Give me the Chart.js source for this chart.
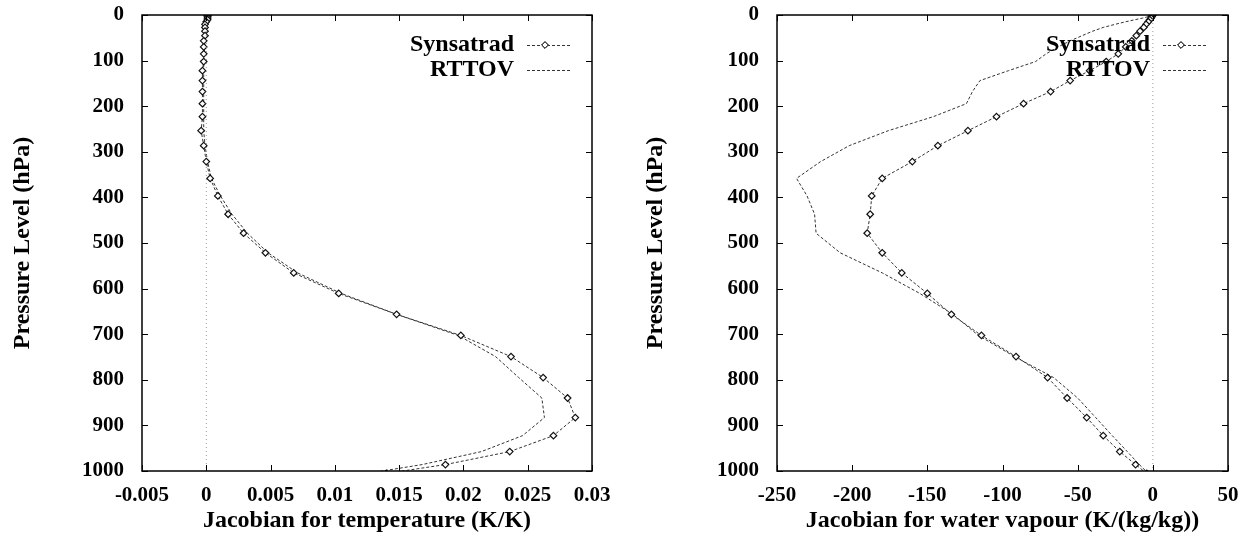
<!DOCTYPE html>
<html>
<head>
<meta charset="utf-8">
<script src="https://cdn.jsdelivr.net/npm/chart.js@4.4.0/dist/chart.umd.min.js"></script>
<style>
html, body { margin: 0; padding: 0; background: #fff; }
#wrap { position: relative; width: 1256px; height: 540px; }
canvas { position: absolute; top: 0; }
#c1 { left: 0; }
#c2 { left: 628px; }
</style>
</head>
<body>
<div id="wrap">
  <canvas id="c1" width="628" height="540"></canvas>
  <canvas id="c2" width="628" height="540"></canvas>
</div>
<script>
// pressure levels (hPa)
const levels = [0.1, 0.29, 0.69, 1.42, 2.61, 4.41, 6.95, 10.37, 14.81, 20.4,
  27.26, 35.51, 45.29, 56.73, 69.97, 85.18, 102.05, 122.04, 143.84, 167.95,
  194.36, 222.94, 253.71, 286.6, 321.5, 358.28, 396.81, 436.95, 478.54, 521.46,
  565.54, 610.6, 656.43, 702.73, 749.12, 795.09, 839.95, 882.8, 922.46, 957.44,
  985.88, 1005.43, 1013.25];

// temperature jacobians (K/K)
const tempSyn = [0.0001, 0.0001, 0.0001, 0.0001, 0.0001, 0.0001, 0.0001, 0.0001, 0.0000, -0.0001,
  -0.0001, -0.0001, -0.0001, -0.0002, -0.0002, -0.0002, -0.0002, -0.0003, -0.0003, -0.0003,
  -0.0003, -0.0003, -0.0004, -0.0002, 0.0000, 0.0003, 0.0009, 0.0017, 0.0029, 0.0046,
  0.0068, 0.0103, 0.0148, 0.0198, 0.0237, 0.0262, 0.0281, 0.0287, 0.0270, 0.0236,
  0.0186, 0.0140, 0.0120];
const tempRttov = [0.0001, 0.0001, 0.0001, 0.0001, 0.0001, 0.0001, 0.0001, 0.0000, 0.0000, 0.0000,
  -0.0001, -0.0001, -0.0001, -0.0001, -0.0001, -0.0002, -0.0002, -0.0002, -0.0002, -0.0002,
  -0.0002, -0.0002, -0.0002, -0.0001, 0.0001, 0.0004, 0.0011, 0.0020, 0.0032, 0.0048,
  0.0071, 0.0105, 0.0148, 0.0196, 0.0225, 0.0243, 0.0261, 0.0263, 0.0246, 0.0214,
  0.0168, 0.0125, 0.0105];

// water vapour jacobians (K/(kg/kg))
const wvSyn = [-0.1, -0.1, -0.2, -0.3, -0.5, -0.8, -1.2, -2, -3, -4.5,
  -6, -8.5, -11, -14, -18, -23, -31, -42, -55, -68,
  -86, -104, -123, -143, -160, -180, -187, -188, -190, -180,
  -167, -150, -134, -114, -91, -70, -57, -44, -33, -22,
  -11.5, -4, -1];
const wvRttov = [0, -0.2, -0.5, -1, -2, -4, -7, -12, -18, -25,
  -33, -40, -47, -55, -63, -71, -78, -96, -115, -120,
  -124, -146, -176, -202, -221, -237, -230, -225, -224, -208,
  -180, -155, -133, -116, -92, -66, -50, -38, -27, -17,
  -9, -3, -1];

const pressureTicks = [0, 100, 200, 300, 400, 500, 600, 700, 800, 900, 1000];
const tempTicks = [-0.005, 0, 0.005, 0.01, 0.015, 0.02, 0.025, 0.03];
const wvTicks = [-250, -200, -150, -100, -50, 0, 50];

const serif = '"Liberation Serif", "DejaVu Serif", serif';

function pts(xs) {
  return levels.map((p, i) => ({x: xs[i], y: p}));
}

// gnuplot style box with inward ticks
const framePlugin = {
  id: 'frame',
  afterDatasetsDraw(chart) {
    const {ctx, chartArea: a, scales} = chart;
    const x = scales.x, y = scales.y;
    ctx.save();
    ctx.strokeStyle = '#000';
    ctx.lineWidth = 1;
    ctx.beginPath();
    x.ticks.forEach(t => {
      const px = Math.round(x.getPixelForValue(t.value)) + 0.5;
      ctx.moveTo(px, a.bottom); ctx.lineTo(px, a.bottom - 6);
      ctx.moveTo(px, a.top); ctx.lineTo(px, a.top + 6);
    });
    y.ticks.forEach(t => {
      const py = Math.round(y.getPixelForValue(t.value)) + 0.5;
      ctx.moveTo(a.left, py); ctx.lineTo(a.left + 6, py);
      ctx.moveTo(a.right, py); ctx.lineTo(a.right - 6, py);
    });
    ctx.stroke();
    ctx.lineWidth = 1.5;
    ctx.strokeRect(a.left, a.top, a.right - a.left, a.bottom - a.top);
    ctx.restore();
  }
};

// key in the top right corner, text left of the sample
const keyPlugin = {
  id: 'key',
  afterDatasetsDraw(chart) {
    const {ctx, chartArea: a} = chart;
    let row = 0;
    ctx.save();
    chart.data.datasets.forEach(ds => {
      if (!ds.label) return;
      const yy = a.top + 30 + row * 25;
      ctx.fillStyle = '#000';
      ctx.font = 'bold 24px ' + serif;
      ctx.textAlign = 'right';
      ctx.textBaseline = 'middle';
      ctx.fillText(ds.label, a.right - 78, yy);
      ctx.strokeStyle = ds.borderColor;
      ctx.lineWidth = ds.borderWidth;
      ctx.setLineDash(ds.borderDash);
      ctx.beginPath();
      ctx.moveTo(a.right - 65, yy + 0.5);
      ctx.lineTo(a.right - 20, yy + 0.5);
      ctx.stroke();
      ctx.setLineDash([]);
      if (ds.pointRadius > 0) {
        Chart.helpers.drawPoint(ctx, {pointStyle: ds.pointStyle, radius: ds.pointRadius, borderWidth: 1, rotation: 0}, a.right - 47, yy);
        ctx.fillStyle = '#fff';
        ctx.strokeStyle = ds.pointBorderColor;
        ctx.fill();
        ctx.stroke();
      }
      row++;
    });
    ctx.restore();
  }
};

function makeChart(id, synVals, rttovVals, xTicks, xTitle, opts) {
  return new Chart(document.getElementById(id), {
    type: 'scatter',
    data: {
      datasets: [
        {
          data: [{x: 0, y: 0}, {x: 0, y: 1000}],
          showLine: true,
          borderColor: '#9a9a9a',
          borderWidth: 1,
          borderDash: [1, 3],
          pointRadius: 0
        },
        {
          label: 'Synsatrad',
          data: pts(synVals),
          showLine: true,
          borderColor: '#333',
          borderWidth: 1,
          borderDash: [3, 2],
          pointStyle: 'rectRot',
          pointRadius: 3.3,
          pointBorderColor: '#111',
          pointBackgroundColor: '#fff',
          pointBorderWidth: 1.2
        },
        {
          label: 'RTTOV',
          data: pts(rttovVals),
          showLine: true,
          borderColor: '#333',
          borderWidth: 1,
          borderDash: [3, 2],
          pointRadius: 0
        }
      ]
    },
    options: {
      responsive: false,
      animation: false,
      devicePixelRatio: 1,
      layout: {padding: {top: 15, right: opts.right, left: 0, bottom: 0}},
      plugins: {legend: {display: false}, tooltip: {enabled: false}},
      scales: {
        x: {
          type: 'linear',
          min: xTicks[0],
          max: xTicks[xTicks.length - 1],
          afterBuildTicks: s => { s.ticks = xTicks.map(v => ({value: v})); },
          afterFit: s => { s.height = 69; s.paddingLeft = 0; s.paddingRight = 0; },
          grid: {display: false},
          border: {display: false},
          ticks: {
            color: '#000',
            padding: 4,
            maxRotation: 0,
            font: {family: serif, size: 21, weight: 'bold'},
            callback: v => String(v)
          },
          title: {
            display: true,
            text: xTitle,
            color: '#000',
            padding: {top: 0, bottom: 5},
            font: {family: serif, size: 24, weight: 'bold'}
          }
        },
        y: {
          type: 'linear',
          reverse: true,
          min: 0,
          max: 1000,
          afterBuildTicks: s => { s.ticks = pressureTicks.map(v => ({value: v})); },
          afterFit: s => { s.width = opts.yWidth; s.paddingTop = 0; s.paddingBottom = 0; },
          grid: {display: false},
          border: {display: false},
          ticks: {
            color: '#000',
            padding: 10,
            font: {family: serif, size: 21, weight: 'bold'},
            callback: v => String(v)
          },
          title: {
            display: true,
            text: 'Pressure Level (hPa)',
            color: '#000',
            padding: {top: opts.titlePad, bottom: 0},
            font: {family: serif, size: 24, weight: 'bold'}
          }
        }
      }
    },
    plugins: [framePlugin, keyPlugin]
  });
}

makeChart('c1', tempSyn, tempRttov, tempTicks, 'Jacobian for temperature (K/K)', {right: 36, yWidth: 142, titlePad: 8});
makeChart('c2', wvSyn, wvRttov, wvTicks, 'Jacobian for water vapour (K/(kg/kg))', {right: 28, yWidth: 149, titlePad: 13});
</script>
</body>
</html>
